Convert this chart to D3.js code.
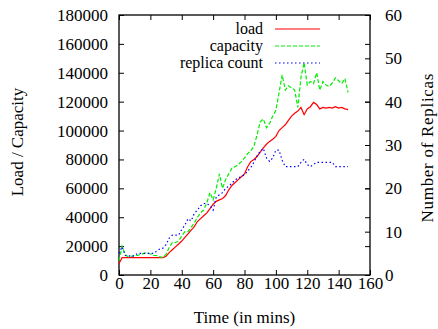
<!DOCTYPE html>
<html>
<head>
<meta charset="utf-8">
<script src="https://cdn.jsdelivr.net/npm/d3@7"></script>
<style>
  body { margin: 0; background: #fff; }
  svg, svg text { font-family: 'Liberation Serif', 'Tinos', 'DejaVu Serif', serif; }
  .tick text { font-size: 17px; fill: #000; }
  .tick line { stroke: #000; stroke-width: 1; }
  .domain { display: none; }
</style>
</head>
<body>
<div id="chart"></div>
<script>
// time in minutes, one sample every 2 mins
var times = d3.range(0, 147, 2);

var load = [8000, 12000, 12000, 12000, 12000, 12000, 12000, 12000, 12000, 12000,
  12000, 12000, 12000, 12000, 12000, 13000, 15500, 17500, 19500, 21500,
  23500, 26000, 28500, 31000, 33500, 37000, 39000, 41000, 43000, 46000,
  49000, 51000, 52000, 53000, 55000, 59000, 62000, 64000, 66000, 68000,
  70000, 75000, 78500, 80000, 82000, 85000, 88000, 90500, 92500, 94000,
  96000, 100000, 102000, 104000, 107000, 110000, 112000, 113500, 116000, 111000,
  115000, 116500, 119500, 118000, 115000, 116000, 115500, 116000, 115500, 116500,
  115500, 116000, 115000, 114500];

var capacity = [10000, 20000, 14000, 12500, 13000, 13800, 13500, 14500, 15000, 15400,
  14500, 13500, 13500, 12500, 12200, 14500, 19000, 22500, 22500, 23500,
  27000, 30000, 30000, 33000, 36000, 40000, 43000, 45000, 50000, 57000,
  52000, 60000, 70000, 60000, 66000, 70000, 74000, 75000, 76500, 78500,
  81000, 84000, 86000, 89000, 97000, 106000, 108000, 102000, 105000, 110000,
  114000, 126000, 138500, 128000, 131000, 129500, 128000, 116000, 137000, 147000,
  131500, 134000, 132500, 140000, 128000, 134000, 131500, 130500, 133000, 136500,
  134500, 132500, 136000, 126500];

var replicas = [5, 6.5, 4.5, 4.5, 4.2, 4.5, 5, 5, 5, 5,
  5, 5, 5.5, 6, 6.2, 7, 8.5, 9.2, 9.2, 9.2,
  10.5, 11.5, 13, 12.5, 14.2, 15, 16, 16.5, 16.5, 16,
  15, 18, 18.5, 19, 20, 20.5, 21.2, 22, 22.3, 22.8,
  23.1, 24, 24.8, 26, 27.5, 28.5, 29.2, 27, 26.2, 27,
  28.8, 28.8, 26.5, 25, 25, 25, 25, 25, 26, 26.7,
  25.5, 25, 25.5, 26, 26, 26, 26, 26, 26, 25,
  25, 25, 25, 25];

var seriesNames = ["load", "capacity", "replica count"];
var xTicks = d3.range(0, 161, 20);
var yTicks = d3.range(0, 180001, 20000);
var y2Ticks = d3.range(0, 61, 10);

var width = 438;
var height = 329;
var pl = 119, pr = 370, pt = 15, pb = 275;

var svg = d3.select("#chart").append("svg")
  .attr("width", width)
  .attr("height", height);

var xS = d3.scaleLinear().domain([0, 160]).range([pl, pr]);
var yS = d3.scaleLinear().domain([0, 180000]).range([pb, pt]);
var y2S = d3.scaleLinear().domain([0, 60]).range([pb, pt]);

// axes, ticks point inward
var axes = [];
axes.push(svg.append("g")
  .attr("transform", "translate(0," + pb + ")")
  .call(d3.axisBottom(xS).tickValues(xTicks).tickSize(-5).tickPadding(1.5)));
axes.push(svg.append("g")
  .attr("transform", "translate(0," + pt + ")")
  .call(d3.axisTop(xS).tickValues(xTicks).tickSize(-5).tickFormat("")));
axes.push(svg.append("g")
  .attr("transform", "translate(" + pl + ",0)")
  .call(d3.axisLeft(yS).tickValues(yTicks).tickSize(-5).tickPadding(11).tickFormat(d3.format("d"))));
axes.push(svg.append("g")
  .attr("transform", "translate(" + pr + ",0)")
  .call(d3.axisRight(yS).tickValues(yTicks).tickSize(-5).tickFormat("")));
axes.push(svg.append("g")
  .attr("transform", "translate(" + pr + ",0)")
  .call(d3.axisRight(y2S).tickValues(y2Ticks).tickSize(-5).tickPadding(15)));

axes.forEach(function(g) {
  g.attr("font-family", null).attr("font-size", null);
});

// frame
svg.append("rect")
  .attr("x", pl).attr("y", pt)
  .attr("width", pr - pl).attr("height", pb - pt)
  .attr("fill", "none").attr("stroke", "#000").attr("stroke-width", 1.3);

// axis titles
svg.append("text")
  .attr("x", (pl + pr) / 2).attr("y", 323)
  .attr("text-anchor", "middle").attr("font-size", 17)
  .text("Time (in mins)");
svg.append("text")
  .attr("transform", "translate(23,142)rotate(-90)")
  .attr("text-anchor", "middle").attr("font-size", 17)
  .text("Load / Capacity");
svg.append("text")
  .attr("transform", "translate(433,148)rotate(-90)")
  .attr("text-anchor", "middle").attr("font-size", 17)
  .attr("textLength", 149).attr("lengthAdjust", "spacing")
  .text("Number of Replicas");

var styles = [
  { color: "#ff0000", dash: null },
  { color: "#00ee00", dash: "4,2" },
  { color: "#0000ff", dash: "1.5,2.5" }
];

var lineL = d3.line().x(function(d, i) { return xS(times[i]); }).y(function(d) { return yS(d); });
var lineR = d3.line().x(function(d, i) { return xS(times[i]); }).y(function(d) { return y2S(d); });

var paths = [lineL(load), lineL(capacity), lineR(replicas)];

paths.forEach(function(p, i) {
  svg.append("path")
    .attr("d", p)
    .attr("fill", "none")
    .attr("stroke", styles[i].color)
    .attr("stroke-width", 1.2)
    .attr("stroke-dasharray", styles[i].dash);

  // legend
  var ly = 29 + i * 17;
  svg.append("text")
    .attr("x", 263).attr("y", ly + 5)
    .attr("text-anchor", "end").attr("font-size", 16)
    .text(seriesNames[i]);
  svg.append("line")
    .attr("x1", 275).attr("x2", 320)
    .attr("y1", ly).attr("y2", ly)
    .attr("stroke", styles[i].color)
    .attr("stroke-width", 1.2)
    .attr("stroke-dasharray", styles[i].dash);
});
</script>
</body>
</html>
